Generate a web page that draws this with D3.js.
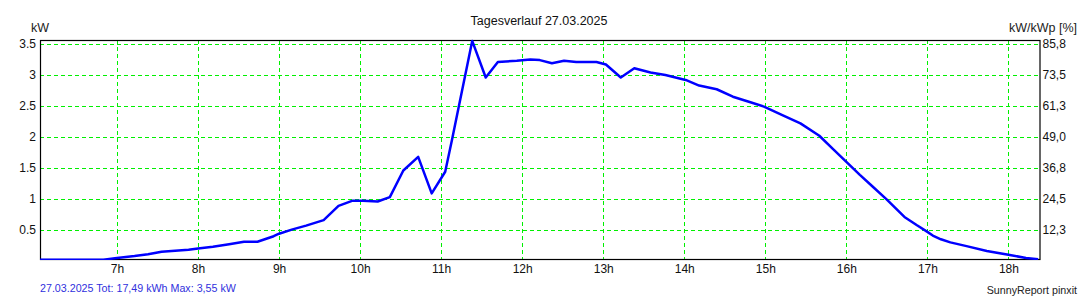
<!DOCTYPE html>
<html>
<head>
<meta charset="utf-8">
<script src="https://cdn.jsdelivr.net/npm/d3@7"></script>
<style>
  body { margin: 0; background: #fff; }
  svg { display: block; font-family: "Liberation Sans", Arial, sans-serif; }
</style>
</head>
<body>
<svg id="chart" width="1080" height="300"></svg>
<script>
// Tagesverlauf - PV output over the day (kW)

const times = [
  "06:03", "06:50", "07:00", "07:13", "07:23", "07:33", "07:53", "08:00",
  "08:11", "08:23", "08:34", "08:44", "08:56", "09:00", "09:10", "09:20",
  "09:33", "09:44", "09:54", "10:02", "10:13", "10:22", "10:32", "10:43",
  "10:53", "11:03", "11:08", "11:23", "11:33", "11:42", "11:56", "12:06",
  "12:13", "12:22", "12:31", "12:40", "12:55", "13:02", "13:13", "13:23",
  "13:35", "13:46", "14:01", "14:11", "14:24", "14:36", "14:49", "14:59",
  "15:13", "15:26", "15:40", "15:50", "16:00", "16:10", "16:19", "16:30",
  "16:43", "16:52", "17:00", "17:04", "17:10", "17:17", "17:29", "17:44",
  "18:00", "18:13", "18:22"
];
const power = [
  0.02, 0.02, 0.05, 0.08, 0.11, 0.15, 0.18, 0.20,
  0.23, 0.27, 0.31, 0.31, 0.40, 0.44, 0.51, 0.57,
  0.66, 0.89, 0.97, 0.97, 0.96, 1.03, 1.46, 1.68,
  1.09, 1.44, 1.95, 3.55, 2.96, 3.21, 3.23, 3.25,
  3.24, 3.19, 3.23, 3.21, 3.21, 3.17, 2.96, 3.11,
  3.04, 3.00, 2.92, 2.83, 2.77, 2.65, 2.56, 2.49,
  2.35, 2.22, 2.02, 1.81, 1.60, 1.39, 1.21, 0.99,
  0.71, 0.58, 0.47, 0.41, 0.35, 0.30, 0.24, 0.16,
  0.10, 0.05, 0.03
];

const hourTicks = [7, 8, 9, 10, 11, 12, 13, 14, 15, 16, 17, 18];
const kwTicks = [0.5, 1, 1.5, 2, 2.5, 3, 3.5];
const percentAtTop = 85.8; // right axis value at 3.5 kW

const title = "Tagesverlauf 27.03.2025";
const footer = "27.03.2025 Tot: 17,49 kWh Max: 3,55 kW";
const credit = "SunnyReport pinxit";

const parseTime = d3.timeParse("%H:%M");
const data = times.map((t, i) => ({ t: parseTime(t), v: power[i] }));

const svg = d3.select("#chart");
const plot = { left: 40, right: 1039.5, top: 40, bottom: 259 };

const x = d3.scaleTime()
  .domain([parseTime("06:03"), parseTime("18:23")])
  .range([plot.left, plot.right]);

const y = d3.scaleLinear().domain([0, 3.5]).range([261, 44]);
const yRight = d3.scaleLinear()
  .domain([0, percentAtTop])
  .range(y.range());

const hourDate = (h) => parseTime(String(h).padStart(2, "0") + ":00");

// grid
const grid = svg.append("g")
  .attr("stroke", "#00f000")
  .attr("stroke-width", 1)
  .attr("stroke-dasharray", "4,3");

grid.selectAll("line.h")
  .data(kwTicks)
  .join("line")
  .attr("class", "h")
  .attr("x1", plot.left)
  .attr("x2", plot.right)
  .attr("y1", (d) => Math.round(y(d)) + 0.5)
  .attr("y2", (d) => Math.round(y(d)) + 0.5);

grid.selectAll("line.v")
  .data(hourTicks)
  .join("line")
  .attr("class", "v")
  .attr("x1", (d) => Math.round(x(hourDate(d))) + 0.5)
  .attr("x2", (d) => Math.round(x(hourDate(d))) + 0.5)
  .attr("y1", plot.top)
  .attr("y2", plot.bottom);

// frame
svg.append("rect")
  .attr("x", plot.left + 0.5)
  .attr("y", plot.top + 0.5)
  .attr("width", plot.right - plot.left)
  .attr("height", plot.bottom - plot.top)
  .attr("fill", "none")
  .attr("stroke", "#000")
  .attr("stroke-width", 1.2);

// left axis
const leftAxis = svg.append("g")
  .attr("transform", `translate(${plot.left - 4},0)`)
  .call(d3.axisLeft(y).tickValues(kwTicks).tickSize(0).tickPadding(0)
    .tickFormat((d) => String(d)));
leftAxis.select(".domain").remove();

// right axis
const rightAxis = svg.append("g")
  .attr("transform", `translate(${plot.right + 3},0)`)
  .call(d3.axisRight(yRight)
    .tickValues(kwTicks.map((d) => d * percentAtTop / 3.5))
    .tickSize(0).tickPadding(0)
    .tickFormat((d) => d3.format(".1f")(d).replace(".", ",")));
rightAxis.select(".domain").remove();

// bottom axis
const bottomAxis = svg.append("g")
  .attr("transform", `translate(0,${plot.bottom + 5})`)
  .call(d3.axisBottom(x).tickValues(hourTicks.map(hourDate)).tickSize(0)
    .tickPadding(0).tickFormat((d) => d.getHours() + "h"));
bottomAxis.select(".domain").remove();

svg.selectAll(".tick text")
  .attr("font-size", 12)
  .attr("font-family", "Liberation Sans, Arial, sans-serif")
  .attr("fill", "#111");

// curve
svg.append("clipPath").attr("id", "clip")
  .append("rect")
  .attr("x", plot.left).attr("y", plot.top - 2)
  .attr("width", plot.right - plot.left + 1)
  .attr("height", plot.bottom - plot.top + 3);

const line = d3.line()
  .x((d) => x(d.t))
  .y((d) => y(d.v));

svg.append("path")
  .datum(data)
  .attr("clip-path", "url(#clip)")
  .attr("fill", "none")
  .attr("stroke", "#0000ff")
  .attr("stroke-width", 2.5)
  .attr("stroke-linejoin", "round")
  .attr("d", line);

// texts
svg.append("text")
  .attr("x", 539).attr("y", 25)
  .attr("text-anchor", "middle")
  .attr("font-size", 12.5)
  .attr("fill", "#111")
  .text(title);

svg.append("text")
  .attr("x", 40).attr("y", 31.5)
  .attr("text-anchor", "middle")
  .attr("font-size", 12.5)
  .attr("fill", "#222")
  .text("kW");

svg.append("text")
  .attr("x", 1077).attr("y", 31.5)
  .attr("text-anchor", "end")
  .attr("font-size", 12.5)
  .attr("fill", "#222")
  .text("kW/kWp [%]");

svg.append("text")
  .attr("x", 40).attr("y", 291.5)
  .attr("font-size", 10.7)
  .attr("fill", "#3030dd")
  .text(footer);

svg.append("text")
  .attr("x", 1077).attr("y", 294)
  .attr("text-anchor", "end")
  .attr("font-size", 10.7)
  .attr("fill", "#222")
  .text(credit);
</script>
</body>
</html>
